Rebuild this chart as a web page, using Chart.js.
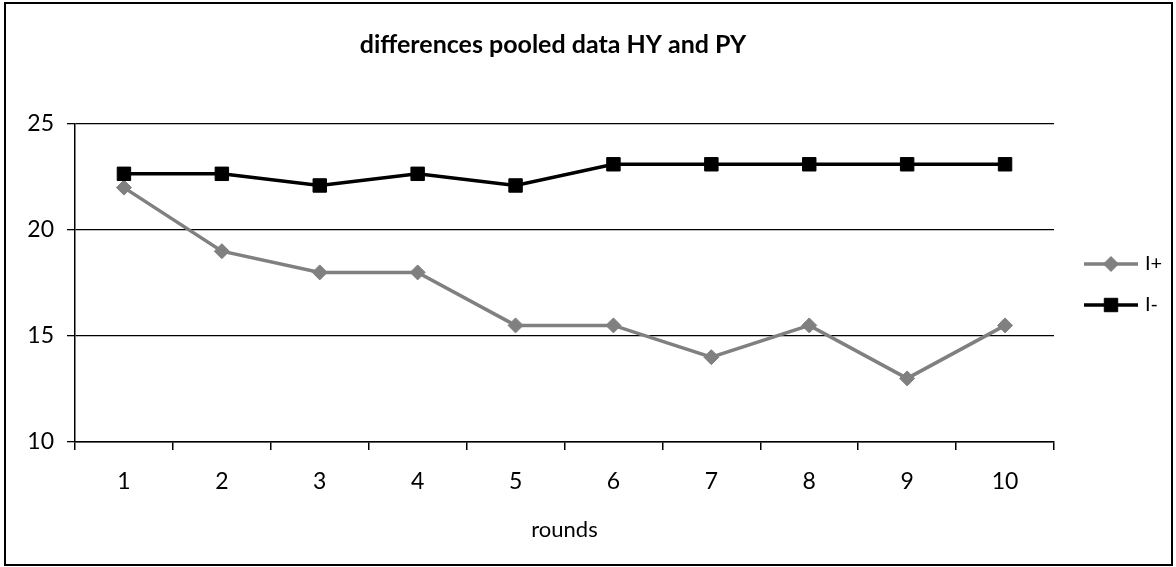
<!DOCTYPE html>
<html>
<head>
<meta charset="utf-8">
<script src="https://cdn.jsdelivr.net/npm/chart.js@4/dist/chart.umd.min.js"></script>
<style>
html,body{margin:0;padding:0;background:#fff;}
#wrap{width:1176px;height:567px;position:relative;}
</style>
</head>
<body>
<div id="wrap"><canvas id="c" width="1176" height="567"></canvas></div>
<script>
const chartTitle = 'differences pooled data HY and PY';
const categories = ['1','2','3','4','5','6','7','8','9','10'];
const seriesNames = ['I+','I-'];
const iPlus  = [22, 19, 18, 18, 15.5, 15.5, 14, 15.5, 13, 15.5];
const iMinus = [22.65, 22.65, 22.1, 22.65, 22.1, 23.1, 23.1, 23.1, 23.1, 23.1];
const yTicks = [10, 15, 20, 25];
const xAxisTitle = 'rounds';

const FONT = 'Lato, "Open Sans", sans-serif';
Chart.defaults.color = '#000';
Chart.defaults.font.family = FONT;

const frame = {
  id: 'frame',
  afterDraw(chart) {
    const ctx = chart.ctx;
    ctx.save();
    // outer border
    ctx.strokeStyle = '#000';
    ctx.lineWidth = 2;
    ctx.strokeRect(5, 3, 1167, 562);
    // title
    ctx.fillStyle = '#000';
    ctx.font = 'bold 25px ' + FONT;
    ctx.textAlign = 'center';
    ctx.textBaseline = 'alphabetic';
    ctx.fillText(chartTitle, 553, 53);
    // legend
    const ys = [264, 305];
    chart.data.datasets.forEach((ds, i) => {
      const y = ys[i];
      ctx.strokeStyle = ds.borderColor;
      ctx.lineWidth = ds.borderWidth;
      ctx.beginPath(); ctx.moveTo(1084, y); ctx.lineTo(1138, y); ctx.stroke();
      ctx.fillStyle = ds.pointBackgroundColor;
      ctx.strokeStyle = ds.pointBorderColor;
      ctx.lineWidth = 1;
      ctx.beginPath();
      if (ds.pointStyle === 'rect') {
        const s = Math.SQRT1_2 * ds.pointRadius;
        ctx.rect(1111 - s, y - s, 2*s, 2*s);
      } else {
        const r = ds.pointRadius;
        ctx.moveTo(1111 - r, y); ctx.lineTo(1111, y - r); ctx.lineTo(1111 + r, y); ctx.lineTo(1111, y + r); ctx.closePath();
      }
      ctx.fill(); ctx.stroke();
      ctx.fillStyle = '#000';
      ctx.font = '20px ' + FONT;
      ctx.textAlign = 'left';
      ctx.textBaseline = 'middle';
      ctx.fillText(ds.label, 1145, y);
    });
    ctx.restore();
  }
};

new Chart(document.getElementById('c'), {
  type: 'line',
  data: {
    labels: categories,
    datasets: [
      {
        label: seriesNames[0], data: iPlus, order: 1,
        borderColor: '#808080', backgroundColor: '#808080',
        pointBackgroundColor: '#808080', pointBorderColor: '#808080',
        borderWidth: 3.5, pointStyle: 'rectRot', pointRadius: 7.5, pointBorderWidth: 1,
        tension: 0, fill: false
      },
      {
        label: seriesNames[1], data: iMinus, order: 0,
        borderColor: '#000000', backgroundColor: '#000000',
        pointBackgroundColor: '#000000', pointBorderColor: '#000000',
        borderWidth: 3.5, pointStyle: 'rect', pointRadius: 9.5, pointBorderWidth: 1,
        tension: 0, fill: false
      }
    ]
  },
  options: {
    responsive: false,
    animation: false,
    events: [],
    layout: { padding: { left: 5, right: 122, top: 124, bottom: 4 } },
    plugins: { legend: { display: false }, title: { display: false }, tooltip: { enabled: false } },
    scales: {
      x: {
        type: 'category',
        offset: true,
        grid: { offset: true, drawOnChartArea: false, drawTicks: true, tickLength: 8, color: '#000', lineWidth: 1.5 },
        border: { color: '#000', width: 1.5 },
        ticks: { font: { size: 23 }, padding: 18, color: '#000', maxRotation: 0 },
        title: { display: true, text: xAxisTitle, font: { size: 22 }, color: '#000', padding: { top: 4, bottom: 20 } },
        afterFit(scale) { scale.height = 567 - 442 - 4; }
      },
      y: {
        min: 10, max: 25,
        afterBuildTicks(scale) { scale.ticks = yTicks.map(v => ({ value: v })); },
        grid: { color: '#000', lineWidth: 1.3, tickLength: 8, drawTicks: true },
        border: { color: '#000', width: 1.5 },
        ticks: { font: { size: 23 }, padding: 13, color: '#000' },
        afterFit(scale) { scale.width = 70; }
      }
    }
  },
  plugins: [frame]
});
</script>
</body>
</html>
